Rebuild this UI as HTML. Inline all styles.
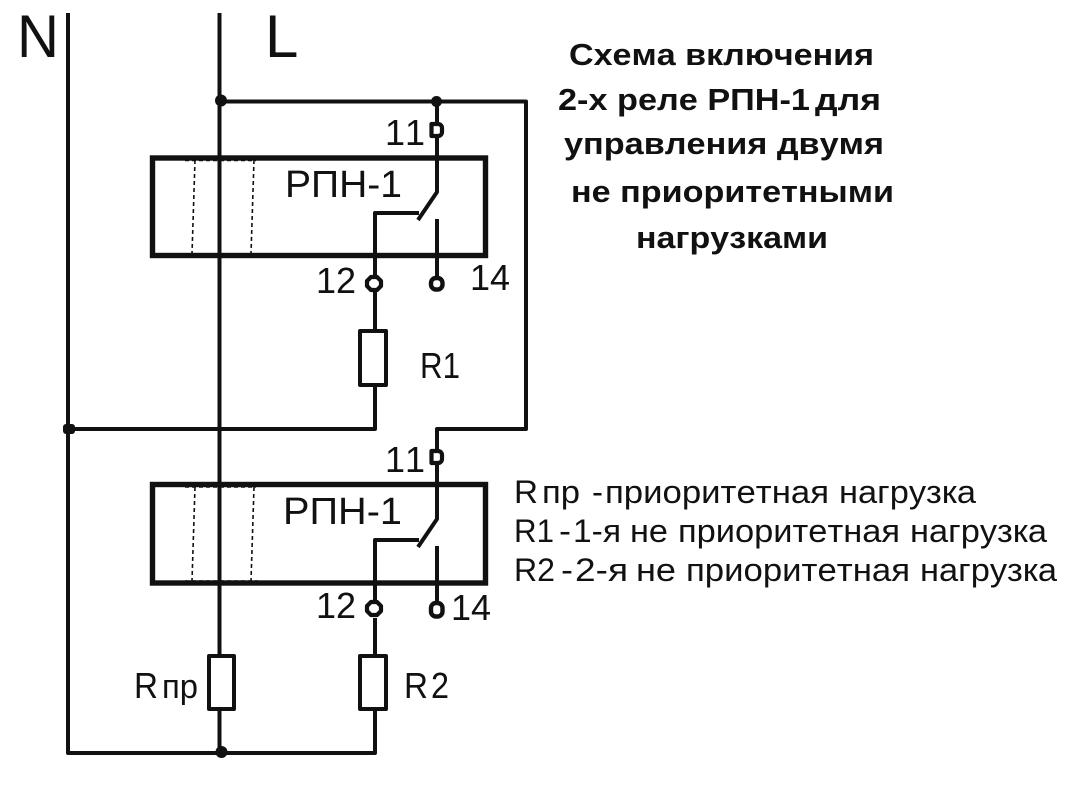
<!DOCTYPE html>
<html><head><meta charset="utf-8"><style>
html,body{margin:0;padding:0;background:#fff}
svg{display:block}
text{font-family:"Liberation Sans",sans-serif;fill:#111;font-kerning:none}
.b{font-weight:bold;font-size:31px}
.n{font-size:36px}
.p{font-size:38px}
.l{font-size:32px}
</style></head><body>
<svg width="1087" height="800" viewBox="0 0 1087 800" xmlns="http://www.w3.org/2000/svg">
<g fill="none" stroke="#111" stroke-width="4" stroke-linejoin="round">
<path d="M68 13V753H375V709M219.5 13V656M219.5 709V753M221 101.5H526V429H437V450M437 101V123M437 137V158"/>
<path d="M69 429H375V385M375 331V291M375 258V276"/>
<path d="M437 158V192L418 220M375 276V213H419M437 219V276"/>
<path d="M437 464V519L418 547M375 601V540H419M437 546V602M375 618V656"/>
<rect x="360" y="331" width="26" height="54"/>
<rect x="360" y="656" width="26" height="53"/>
<rect x="209" y="656" width="25" height="53"/>
<path d="M431.5 124H438a4 4 0 0 1 4 4v4a4 4 0 0 1-4 4H431.5Z" fill="#fff" stroke-width="4.2"/>
<path d="M431.5 451H438a4 4 0 0 1 4 4v4a4 4 0 0 1-4 4H431.5Z" fill="#fff" stroke-width="4.2"/>
<path d="M371 277h6l4 4v5l-4 4h-6l-4-4v-5zM371 602h6l4 4v5l-4 4h-6l-4-4v-5z" fill="#fff" stroke-width="4.2"/>
<rect x="431" y="278" width="11.5" height="11.5" rx="5" fill="#fff" stroke-width="4.4"/>
<rect x="431" y="603" width="11.5" height="13.5" rx="5" fill="#fff" stroke-width="4.4"/>
</g>
<rect x="152.5" y="158" width="333" height="97.5" fill="none" stroke="#111" stroke-width="5.4"/>
<rect x="152.5" y="484.5" width="333" height="98.5" fill="none" stroke="#111" stroke-width="5.4"/>
<g fill="none" stroke="#111" stroke-width="1.6" stroke-dasharray="4 3">
<path d="M195 160L192 254M254 160L251 254M185 160.5H256M185 254H258"/>
<path d="M195 487L192 581M254 487L251 581M185 487H256M185 581H258"/>
</g>
<g fill="#111">
<circle cx="221" cy="100.5" r="6"/><circle cx="436.5" cy="101.5" r="5.5"/>
<rect x="63" y="424" width="12" height="10" rx="3"/>
<circle cx="221.5" cy="752" r="6"/>
</g>
<text x="17" y="57" font-size="60" textLength="42" lengthAdjust="spacingAndGlyphs">N</text>
<text x="265" y="57" font-size="60">L</text>

<text x="569" y="65" class="b" textLength="305" lengthAdjust="spacingAndGlyphs">Схема включения</text>
<text x="558" y="110" class="b" textLength="252" lengthAdjust="spacingAndGlyphs">2-х реле РПН-1</text>
<text x="815" y="110" class="b" textLength="66" lengthAdjust="spacingAndGlyphs">для</text>
<text x="564" y="154" class="b" textLength="320" lengthAdjust="spacingAndGlyphs">управления двумя</text>
<text x="571" y="202" class="b" textLength="323" lengthAdjust="spacingAndGlyphs">не приоритетными</text>
<text x="636" y="248" class="b" textLength="192" lengthAdjust="spacingAndGlyphs">нагрузками</text>

<text x="285" y="197" class="p" textLength="117" lengthAdjust="spacingAndGlyphs">РПН-1</text>
<text x="283" y="524" class="p" textLength="119" lengthAdjust="spacingAndGlyphs">РПН-1</text>

<text x="385" y="145" class="n">11</text>
<text x="316" y="293" class="n">12</text>
<text x="470" y="290" class="n">14</text>
<text x="385" y="472" class="n">11</text>
<text x="316" y="618" class="n">12</text>
<text x="451" y="620" class="n">14</text>

<text x="420" y="378" class="n" textLength="40" lengthAdjust="spacingAndGlyphs">R1</text>
<text x="404" y="698" class="n" textLength="24" lengthAdjust="spacingAndGlyphs">R</text>
<text x="431" y="698" class="n" textLength="18" lengthAdjust="spacingAndGlyphs">2</text>
<text x="134" y="698" class="n" textLength="24" lengthAdjust="spacingAndGlyphs">R</text>
<text x="162" y="698" style="font-size:34px" textLength="36" lengthAdjust="spacingAndGlyphs">пр</text>

<text x="514" y="503" class="l" textLength="24" lengthAdjust="spacingAndGlyphs">R</text>
<text x="542" y="503" class="l" textLength="38" lengthAdjust="spacingAndGlyphs">пр</text>
<text x="592" y="503" class="l" textLength="11" lengthAdjust="spacingAndGlyphs">-</text>
<text x="605" y="503" class="l" textLength="224" lengthAdjust="spacingAndGlyphs">приоритетная</text>
<text x="839" y="503" class="l" textLength="137" lengthAdjust="spacingAndGlyphs">нагрузка</text>

<text x="514" y="542" class="l" textLength="40" lengthAdjust="spacingAndGlyphs">R1</text>
<text x="559" y="542" class="l" textLength="12" lengthAdjust="spacingAndGlyphs">-</text>
<text x="573" y="542" class="l" textLength="48" lengthAdjust="spacingAndGlyphs">1-я</text>
<text x="630" y="542" class="l" textLength="38" lengthAdjust="spacingAndGlyphs">не</text>
<text x="678" y="542" class="l" textLength="222" lengthAdjust="spacingAndGlyphs">приоритетная</text>
<text x="910" y="542" class="l" textLength="137" lengthAdjust="spacingAndGlyphs">нагрузка</text>

<text x="514" y="581" class="l" textLength="41" lengthAdjust="spacingAndGlyphs">R2</text>
<text x="561" y="581" class="l" textLength="12" lengthAdjust="spacingAndGlyphs">-</text>
<text x="575" y="581" class="l" textLength="53" lengthAdjust="spacingAndGlyphs">2-я</text>
<text x="636" y="581" class="l" textLength="40" lengthAdjust="spacingAndGlyphs">не</text>
<text x="686" y="581" class="l" textLength="224" lengthAdjust="spacingAndGlyphs">приоритетная</text>
<text x="920" y="581" class="l" textLength="137" lengthAdjust="spacingAndGlyphs">нагрузка</text>
</svg>
</body></html>
